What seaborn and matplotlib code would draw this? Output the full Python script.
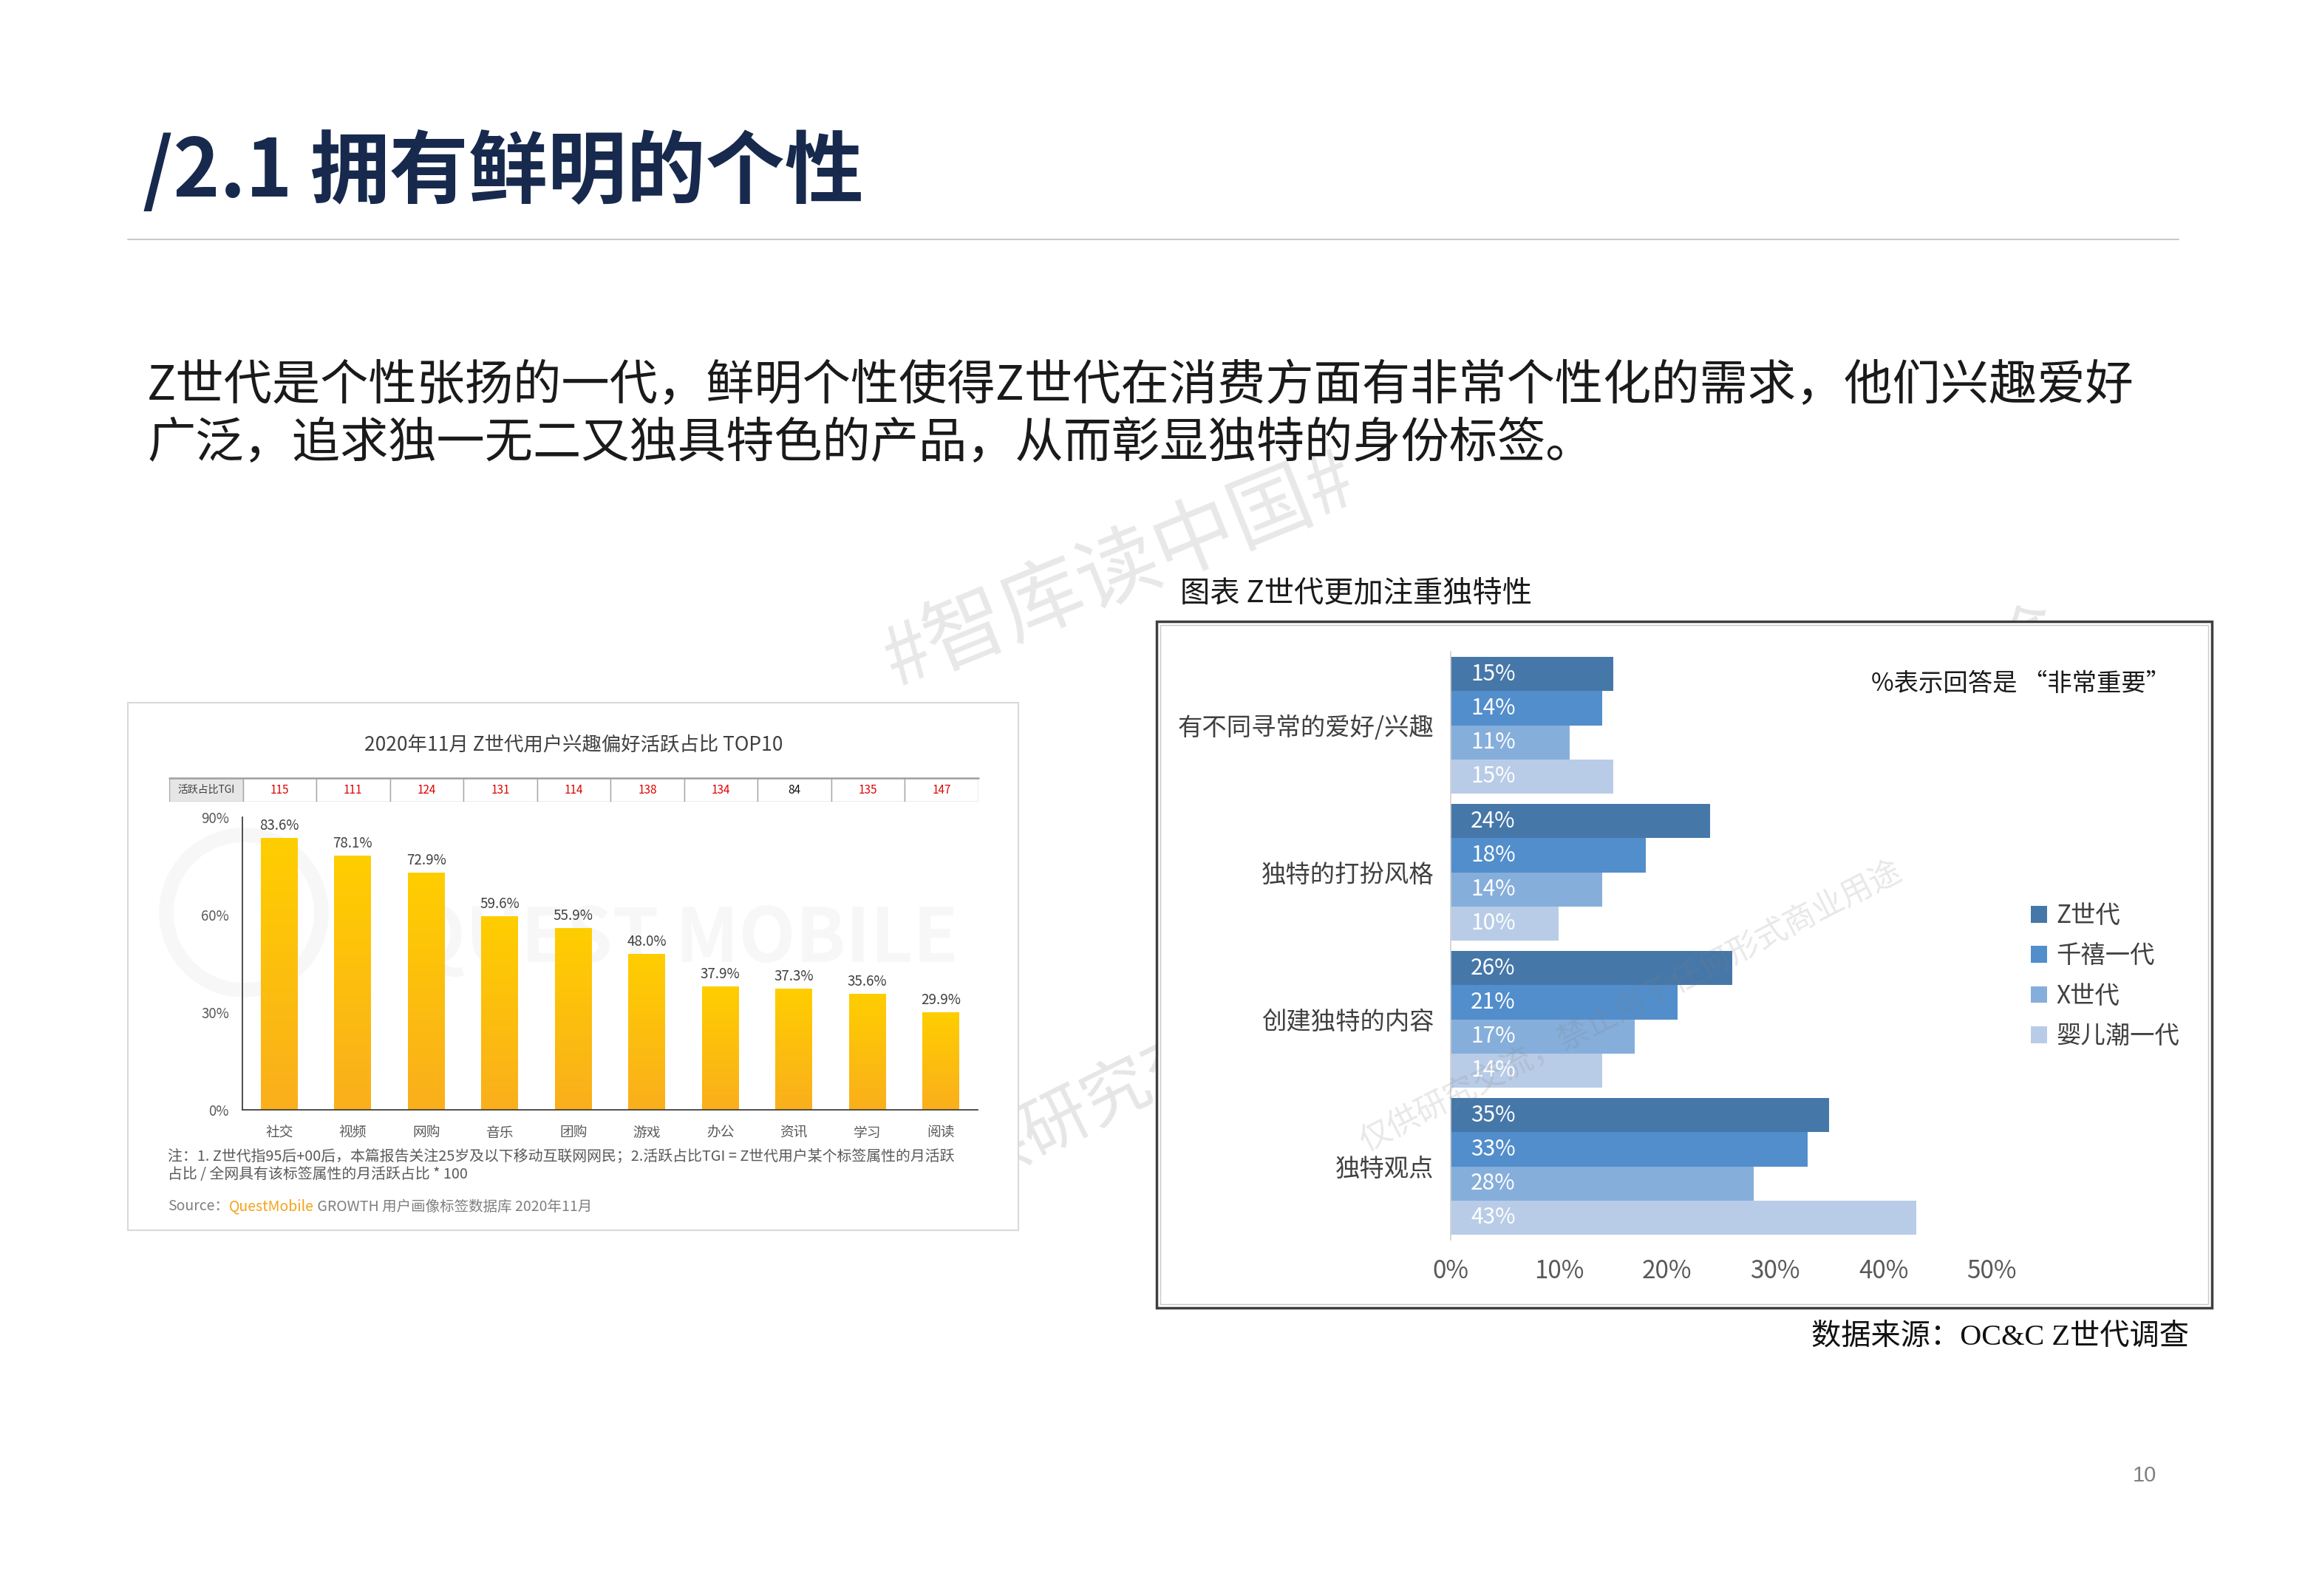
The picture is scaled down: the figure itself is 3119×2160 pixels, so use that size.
import numpy as np
import pandas as pd
import matplotlib
matplotlib.use("Agg")
import matplotlib.pyplot as plt
import seaborn as sns
from matplotlib.patches import Rectangle, Circle
from matplotlib.colors import LinearSegmentedColormap

# ---------------- data ----------------
interest_cats = ["社交", "视频", "网购", "音乐", "团购", "游戏", "办公", "资讯", "学习", "阅读"]
interest_share = [83.6, 78.1, 72.9, 59.6, 55.9, 48.0, 37.9, 37.3, 35.6, 29.9]
tgi_values = [115, 111, 124, 131, 114, 138, 134, 84, 135, 147]
left_yticks = [0, 30, 60, 90]

unique_cats = ["有不同寻常的爱好/兴趣", "独特的打扮风格", "创建独特的内容", "独特观点"]
generations = ["Z世代", "千禧一代", "X世代", "婴儿潮一代"]
z_gen = [15, 24, 26, 35]
millennials = [14, 18, 21, 33]
gen_x = [11, 14, 17, 28]
boomers = [15, 10, 14, 43]
right_xticks = [0, 10, 20, 30, 40, 50]

# ---------------- setup ----------------
W, H = 3119, 2160
sns.set_theme(style="white")
plt.rcParams['font.family'] = ['Noto Sans CJK SC', 'DejaVu Sans']

fig = plt.figure(figsize=(W / 100, H / 100), dpi=100)
fig.patch.set_facecolor("white")


def fx(x):
    return x / W


def fy(y):
    return 1 - y / H


# background / decoration layer in pixel coordinates
bg = fig.add_axes([0, 0, 1, 1], zorder=-1)
bg.set_xlim(0, W)
bg.set_ylim(H, 0)
bg.axis("off")

# slide watermarks (under the pictures)
bg.text(1515, 773, "#智库读中国#", fontsize=80, color="#E8E8E8", rotation=22,
        ha="center", va="center", rotation_mode="anchor", zorder=1)
bg.text(1226, 1624, "仅供研究交流，禁止用于任何形式商业用途", fontsize=66, color="#E6E6E6",
        rotation=26.4, ha="left", va="center", rotation_mode="anchor", zorder=1)

# title
bg.text(193, 234, "/2.1 拥有鲜明的个性", fontsize=77, weight="bold", color="#17294D",
        family=["Liberation Sans Narrow", "Noto Sans CJK SC"],
        ha="left", va="center", zorder=3)
bg.plot([173, 2948], [324, 324], color="#C9C9C9", lw=1.5, zorder=3)

# paragraph
bg.text(199, 523, "Z世代是个性张扬的一代，鲜明个性使得Z世代在消费方面有非常个性化的需求，他们兴趣爱好",
        fontsize=47, color="#1A1A1A", ha="left", va="center", zorder=3)
bg.text(199, 601, "广泛，追求独一无二又独具特色的产品，从而彰显独特的身份标签。",
        fontsize=47, color="#1A1A1A", ha="left", va="center", zorder=3)

# left picture box
bg.add_patch(Rectangle((173, 951), 1205, 714, facecolor="white", edgecolor="#D9D9D9", lw=1.5, zorder=2))
bg.add_patch(Circle((330, 1235), 105, fill=False, edgecolor="#F7F7F7", lw=14, zorder=2.1))
bg.text(925, 1272, "QUEST MOBILE", fontsize=72, weight="bold", color="#F7F7F7",
        ha="center", va="center", zorder=2.1)
bg.text(776, 1008, "2020年11月 Z世代用户兴趣偏好活跃占比 TOP10", fontsize=19, color="#404040",
        ha="center", va="center", zorder=3)
bg.text(227, 1565, "注：1. Z世代指95后+00后，本篇报告关注25岁及以下移动互联网网民；2.活跃占比TGI = Z世代用户某个标签属性的月活跃",
        fontsize=14.3, color="#595959", ha="left", va="center", zorder=3)
bg.text(227, 1590, "占比 / 全网具有该标签属性的月活跃占比 * 100",
        fontsize=14.3, color="#595959", ha="left", va="center", zorder=3)
s1 = bg.text(227, 1633, "Source：", fontsize=14, color="#7F7F7F", ha="left", va="center", zorder=3)
s2 = bg.annotate("QuestMobile", xy=(1, 0), xycoords=s1, fontsize=14, color="#F5A21B",
                 ha="left", va="bottom", zorder=3)
bg.annotate(" GROWTH 用户画像标签数据库 2020年11月", xy=(1, 0), xycoords=s2, fontsize=14,
            color="#7F7F7F", ha="left", va="bottom", zorder=3)

# right picture box
bg.text(1597, 803, "图表 Z世代更加注重独特性", fontsize=29, color="#1A1A1A", ha="left", va="center", zorder=3)
bg.add_patch(Rectangle((1565, 841), 1428, 929, facecolor="white", edgecolor="#3F3F3F", lw=2.5, zorder=2))
bg.add_patch(Rectangle((1570, 846), 1418, 919, fill=False, edgecolor="#C8C8C8", lw=1, zorder=2.1))
bg.text(2532, 925, "%表示回答是 “非常重要”", fontsize=24, color="#1A1A1A", ha="left", va="center", zorder=3)

# source + page number
bg.text(2962, 1810, "数据来源：OC&C Z世代调查", fontsize=29, color="#111111",
        family=["Liberation Serif", "Noto Sans CJK SC"], ha="right", va="center", zorder=3)
bg.text(2902, 1997, "10", fontsize=21, color="#7F7F7F", family=["Liberation Sans", "DejaVu Sans"],
        ha="center", va="center", zorder=3)

# ---------------- left chart: interest TOP10 ----------------
ax1 = fig.add_axes([fx(328), fy(1502), 995 / W, 396 / H], zorder=1)
ax1.set_facecolor("none")
sns.barplot(x=interest_cats, y=interest_share, color="#FFC400", width=0.5, saturation=1,
            linewidth=0, ax=ax1)
grad_cmap = LinearSegmentedColormap.from_list("bar_grad", ["#FFCE00", "#FAAF1C"])
gradient = np.linspace(0, 1, 256).reshape(-1, 1)
for patch, val in zip(ax1.patches, interest_share):
    x0 = patch.get_x()
    w = patch.get_width()
    im = ax1.imshow(gradient, extent=[x0, x0 + w, 0, patch.get_height()], aspect="auto",
                    cmap=grad_cmap, origin="upper", zorder=patch.get_zorder() + 0.1)
    im.set_clip_path(patch)
    ax1.annotate(f"{val:.1f}%", xy=(x0 + w / 2, patch.get_height()), xytext=(0, 6),
                 textcoords="offset pixels", ha="center", va="bottom", fontsize=13.5, color="#404040")
ax1.set_xlim(-0.5, 9.5)
ax1.set_ylim(0, 90)
ax1.set_yticks(left_yticks)
ax1.set_yticklabels([f"{v}%" for v in left_yticks])
ax1.set_xlabel("")
ax1.set_ylabel("")
ax1.tick_params(axis="both", length=0, labelsize=13.5, labelcolor="#595959")
ax1.tick_params(axis="x", pad=15)
ax1.tick_params(axis="y", pad=13)
for side in ["top", "right"]:
    ax1.spines[side].set_visible(False)
for side in ["left", "bottom"]:
    ax1.spines[side].set_color("#404040")
    ax1.spines[side].set_linewidth(1.3)
ax1.grid(False)

# TGI table row aligned to the bar slots
axt = fig.add_axes([fx(229), fy(1085), (1324 - 229) / W, (1085 - 1053) / H], zorder=1)
axt.set_xlim(-1.5, 9.5)
axt.set_ylim(0, 1)
axt.axis("off")
axt.add_patch(Rectangle((-1.5, 0), 1, 1, facecolor="#E6E6E6", edgecolor="#A6A6A6", lw=1))
axt.text(-1.0, 0.5, "活跃占比TGI", fontsize=10, color="#404040", ha="center", va="center")
for i, v in enumerate(tgi_values):
    axt.add_patch(Rectangle((i - 0.5, 0), 1, 1, facecolor="white", edgecolor="#A6A6A6", lw=1))
    axt.text(i, 0.5, str(v), fontsize=11, color="#E00000" if v >= 100 else "#111111",
             ha="center", va="center")
axt.plot([-1.5, 9.5], [1, 1], color="#A0A0A0", lw=1.8, clip_on=False)

# ---------------- right chart: uniqueness ----------------
df_right = pd.DataFrame({
    "category": unique_cats * 4,
    "generation": np.repeat(generations, 4),
    "value": z_gen + millennials + gen_x + boomers,
})
palette = ["#4677A9", "#528ECB", "#86AEDB", "#B8CCE7"]
ax2 = fig.add_axes([fx(1963), fy(1678), 732 / W, 796 / H], zorder=1)
ax2.set_facecolor("none")
sns.barplot(data=df_right, x="value", y="category", hue="generation", order=unique_cats,
            hue_order=generations, palette=palette, orient="h", width=0.93, saturation=1,
            linewidth=0, ax=ax2)
series = [z_gen, millennials, gen_x, boomers]
for cont, vals in zip(ax2.containers, series):
    for bar, v in zip(cont, vals):
        ax2.annotate(f"{v}%", xy=(0, bar.get_y() + bar.get_height() / 2), xytext=(27, 0),
                     textcoords="offset pixels", ha="left", va="center", fontsize=21.5, color="white")
ax2.set_xlim(0, 50)
ax2.set_ylim(3.5, -0.5)
ax2.set_xticks(right_xticks)
ax2.set_xticklabels([f"{v}%" for v in right_xticks])
ax2.set_xlabel("")
ax2.set_ylabel("")
ax2.tick_params(axis="both", length=0)
ax2.tick_params(axis="x", labelsize=24, labelcolor="#595959", pad=18)
ax2.tick_params(axis="y", labelsize=24, labelcolor="#404040", pad=16)
for side in ["top", "right", "bottom"]:
    ax2.spines[side].set_visible(False)
ax2.spines["left"].set_color("#D0D0D0")
ax2.spines["left"].set_linewidth(1.2)
ax2.grid(False)
leg = ax2.legend(loc="upper left", bbox_to_anchor=(fx(2748), fy(1222)), bbox_transform=fig.transFigure,
                 frameon=False, fontsize=24, handlelength=0.67, handleheight=0.67, handletextpad=0.36,
                 labelspacing=0.58, borderpad=0, borderaxespad=0, labelcolor="#404040", title=None)

# overlay watermark over right chart
fig.text(fx(2207), fy(1363), "仅供研究交流，禁止用于任何形式商业用途", fontsize=31, color="#808080",
         alpha=0.18, rotation=27, ha="center", va="center", rotation_mode="anchor", zorder=5)

fig.savefig("out.png", dpi=100, facecolor="white")
